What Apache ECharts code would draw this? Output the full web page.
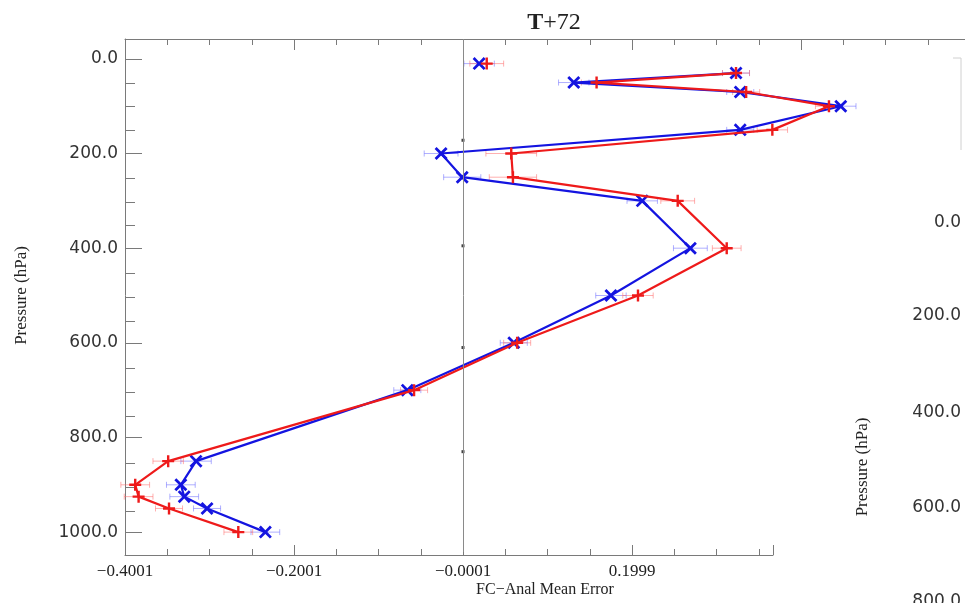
<!DOCTYPE html>
<html>
<head>
<meta charset="utf-8">
<script src="https://cdn.jsdelivr.net/npm/echarts@6/dist/echarts.min.js"></script>
<style>
  html, body { margin: 0; padding: 0; background: #fff; }
  #chart { width: 965px; height: 603px; }
</style>
</head>
<body>
<div id="chart"></div>
<script>
// pressure levels (hPa), 20 hPa has no value so the top point stands alone
var levels = [10, 20, 30, 50, 70, 100, 150, 200, 250, 300, 400, 500, 600, 700, 850, 900, 925, 950, 1000];
var blueMean = [0.019, null, 0.323, 0.131, 0.328, 0.447, 0.328, -0.026, -0.001, 0.212, 0.269, 0.175, 0.060, -0.066, -0.316, -0.334, -0.330, -0.303, -0.234];
var redMean = [0.028, null, 0.323, 0.158, 0.335, 0.433, 0.366, 0.057, 0.059, 0.254, 0.312, 0.207, 0.064, -0.058, -0.349, -0.388, -0.384, -0.348, -0.266];
// half widths of the faint error bars
var blueSpread = [0.018, null, 0.016, 0.018, 0.016, 0.018, 0.016, 0.020, 0.022, 0.018, 0.020, 0.018, 0.016, 0.016, 0.018, 0.017, 0.017, 0.016, 0.017];
var redSpread = [0.020, null, 0.016, 0.018, 0.016, 0.016, 0.018, 0.030, 0.028, 0.020, 0.017, 0.018, 0.016, 0.016, 0.018, 0.017, 0.017, 0.016, 0.017];
var majorPressure = [0, 200, 400, 600, 800, 1000];
var minorPressure = [50, 100, 150, 250, 300, 350, 450, 500, 550, 650, 700, 750, 850, 900, 950];
var zeroMarks = [172, 395, 610, 830];
var rightLabels = ['0.0', '200.0', '400.0', '600.0', '800.0'];

var myChart = echarts.init(document.getElementById('chart'), null, { renderer: 'canvas' });

var serif = 'Liberation Serif';
var sans = 'DejaVu Sans';
var axisGray = '#7a7a7a';

function pairs(vals) {
  return levels.map(function (p, i) { return [vals[i], p]; });
}
function barData(vals, spread) {
  var out = [];
  levels.forEach(function (p, i) {
    if (vals[i] != null) out.push([vals[i], p, spread[i]]);
  });
  return out;
}
function errorBars(color) {
  return function (params, api) {
    var x = api.value(0), y = api.value(1), e = api.value(2);
    var a = api.coord([x - e, y]);
    var b = api.coord([x + e, y]);
    var st = { stroke: color, lineWidth: 1 };
    return {
      type: 'group',
      children: [
        { type: 'line', shape: { x1: a[0], y1: a[1], x2: b[0], y2: b[1] }, style: st },
        { type: 'line', shape: { x1: a[0], y1: a[1] - 3, x2: a[0], y2: a[1] + 3 }, style: st },
        { type: 'line', shape: { x1: b[0], y1: b[1] - 3, x2: b[0], y2: b[1] + 3 }, style: st }
      ]
    };
  };
}
function tickText(v) {
  var k = Math.round((v + 0.0001) / 0.2);
  if (k > 1) return '';
  return (k * 0.2 - 0.0001).toFixed(4).replace('-', '\u2212');
}

var plusPath = 'path://M4,0H6V4H10V6H6V10H4V6H0V4H4Z';
var crossPath = 'path://M0,1.5L1.5,0L5,3.5L8.5,0L10,1.5L6.5,5L10,8.5L8.5,10L5,6.5L1.5,10L0,8.5L3.5,5Z';

var option = {
  backgroundColor: '#fff',
  animation: false,
  title: {
    text: '{b|T}+72',
    left: 549,
    textAlign: 'center',
    top: 6,
    textStyle: {
      fontFamily: serif, fontSize: 24, fontWeight: 'normal', color: '#222',
      rich: { b: { fontFamily: serif, fontSize: 24, fontWeight: 'bold', color: '#222' } }
    }
  },
  grid: [
    { left: 125, top: 39, width: 840, height: 516 },
    { left: 125, top: 39, width: 648, height: 516 }
  ],
  xAxis: [
    {
      gridIndex: 0, type: 'value', position: 'top',
      min: -0.4001, max: 0.5940, interval: 0.2,
      axisLine: { show: true, onZero: false, lineStyle: { color: axisGray, width: 1 } },
      axisTick: { show: true, inside: true, length: 11, lineStyle: { color: axisGray } },
      minorTick: { show: true, splitNumber: 4, length: 6, lineStyle: { color: axisGray } },
      axisLabel: { show: false },
      splitLine: { show: false }
    },
    {
      gridIndex: 1, type: 'value', position: 'bottom',
      min: -0.4001, max: 0.3668, interval: 0.2,
      axisLine: { show: true, onZero: false, lineStyle: { color: axisGray, width: 1 } },
      axisTick: { show: true, inside: true, length: 10, lineStyle: { color: axisGray } },
      minorTick: { show: true, splitNumber: 4, length: 6, lineStyle: { color: axisGray } },
      axisLabel: {
        show: true, margin: 8, color: '#222', fontFamily: serif, fontSize: 17,
        formatter: tickText
      },
      splitLine: { show: false }
    },
    {
      gridIndex: 0, type: 'value', position: 'bottom',
      min: -0.4001, max: 0.5940,
      axisLine: { show: false, onZero: false },
      axisTick: { show: false },
      axisLabel: { show: false },
      splitLine: { show: false },
      name: 'FC\u2212Anal Mean Error',
      nameLocation: 'middle',
      nameGap: 30,
      nameTextStyle: { fontFamily: serif, fontSize: 16, color: '#222' }
    }
  ],
  yAxis: [
    {
      gridIndex: 0, type: 'value', inverse: true,
      min: -42, max: 1042,
      axisLine: { show: true, onZero: false, lineStyle: { color: axisGray, width: 1 } },
      axisTick: { show: true, inside: true, length: 17, customValues: majorPressure, lineStyle: { color: axisGray } },
      axisLabel: {
        show: true, margin: 7, color: '#333', fontFamily: sans, fontSize: 17,
        customValues: majorPressure,
        formatter: function (v) { return v.toFixed(1); }
      },
      splitLine: { show: false },
      name: 'Pressure (hPa)',
      nameLocation: 'middle',
      nameGap: 95,
      nameTextStyle: { fontFamily: serif, fontSize: 17, color: '#222' }
    },
    {
      gridIndex: 1, type: 'value', inverse: true, position: 'left',
      min: -42, max: 1042,
      axisLine: { show: false, onZero: false },
      axisTick: { show: true, inside: true, length: 10, customValues: minorPressure, lineStyle: { color: axisGray } },
      axisLabel: { show: false },
      splitLine: { show: false }
    }
  ],
  graphic: rightLabels.map(function (t, i) {
    var ys = [225, 318, 415, 510, 604];
    return {
      type: 'text', right: 4, top: ys[i] - 11,
      style: { text: t, fill: '#333', font: '17px "DejaVu Sans"', textAlign: 'right' }
    };
  }).concat([
    {
      type: 'text', x: 863, y: 467, rotation: Math.PI / 2,
      style: { text: 'Pressure (hPa)', fill: '#222', font: '17px "Liberation Serif"', textAlign: 'center', textVerticalAlign: 'middle' }
    },
    {
      type: 'polyline',
      shape: { points: [[953, 58], [961, 58], [961, 150]] },
      style: { stroke: '#d0d0d0', lineWidth: 1, fill: null }
    }
  ]),
  series: [
    {
      name: 'blueBars', type: 'custom', xAxisIndex: 0, yAxisIndex: 0,
      renderItem: errorBars('rgba(110,110,255,0.55)'),
      data: barData(blueMean, blueSpread), z: 1, silent: true, clip: false
    },
    {
      name: 'redBars', type: 'custom', xAxisIndex: 0, yAxisIndex: 0,
      renderItem: errorBars('rgba(255,110,110,0.55)'),
      data: barData(redMean, redSpread), z: 1, silent: true, clip: false
    },
    {
      name: 'zeroTicks', type: 'scatter', xAxisIndex: 0, yAxisIndex: 0,
      symbol: 'rect', symbolSize: [3, 3],
      itemStyle: { color: '#111' },
      data: zeroMarks.map(function (p) { return [-0.0001, p]; }),
      z: 2, silent: true
    },
    {
      name: 'Blue', type: 'line', xAxisIndex: 0, yAxisIndex: 0,
      data: pairs(blueMean),
      connectNulls: false, clip: false,
      symbol: crossPath, symbolSize: 13,
      lineStyle: { color: '#1414e0', width: 2.2 },
      itemStyle: { color: '#1414e0' },
      z: 3,
      markLine: {
        silent: true, symbol: 'none',
        lineStyle: { color: '#8a8a8a', width: 1, type: 'solid' },
        label: { show: false },
        data: [{ xAxis: -0.0001 }]
      }
    },
    {
      name: 'Red', type: 'line', xAxisIndex: 0, yAxisIndex: 0,
      data: pairs(redMean),
      connectNulls: false, clip: false,
      symbol: plusPath, symbolSize: 12,
      lineStyle: { color: '#ee1a1a', width: 2.2 },
      itemStyle: { color: '#ee1a1a' },
      z: 4
    }
  ]
};

myChart.setOption(option);
</script>
</body>
</html>
